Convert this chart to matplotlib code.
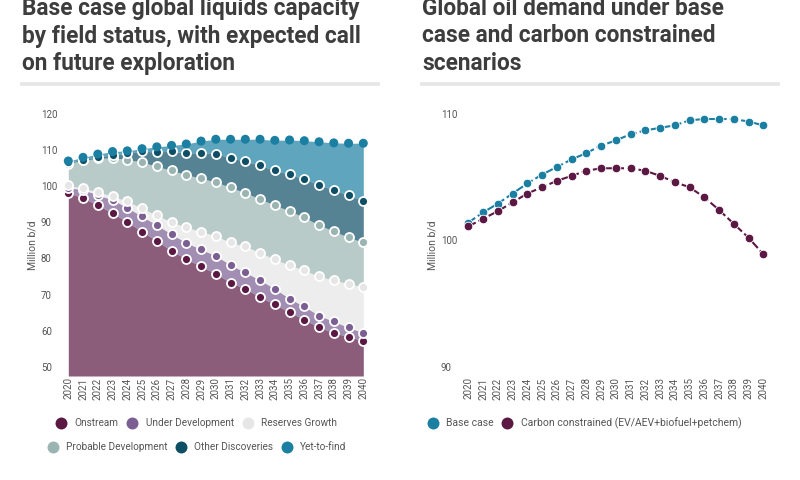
import matplotlib
matplotlib.use("Agg")
import matplotlib.pyplot as plt
from matplotlib.lines import Line2D

plt.rcParams['font.family'] = ['Roboto', 'DejaVu Sans']

years = list(range(2020, 2041))

# Left chart: stacked band tops (cumulative, million b/d)
onstream = [98.1, 96.7, 94.7, 92.5, 90.0, 87.4, 84.8, 82.1, 79.8, 77.8, 75.8,
            73.3, 71.6, 69.3, 67.3, 65.1, 63.1, 60.9, 59.5, 58.3, 57.3]
under_development = [99.5, 99.0, 97.5, 96.2, 94.0, 91.6, 89.2, 86.7, 84.3, 82.5, 80.7,
                     78.2, 76.1, 74.0, 71.6, 68.9, 66.7, 64.2, 62.6, 60.9, 59.5]
reserves_growth = [100.2, 99.3, 98.4, 97.1, 95.8, 93.8, 91.9, 90.0, 88.6, 87.4, 86.2,
                   84.4, 83.3, 81.6, 79.7, 78.1, 76.7, 75.0, 74.0, 73.0, 72.1]
probable_development = [106.2, 107.1, 107.6, 107.8, 107.3, 106.6, 105.4, 104.3, 103.1, 102.1, 101.1,
                        99.6, 98.1, 96.4, 94.7, 93.1, 91.3, 89.2, 87.5, 85.8, 84.4]
other_discoveries = [106.6, 107.3, 108.0, 108.6, 109.0, 109.6, 109.4, 109.6, 109.1, 109.2, 108.9,
                     107.8, 106.8, 105.7, 104.3, 103.2, 101.9, 100.3, 98.9, 97.5, 95.9]
yet_to_find = [106.9, 107.9, 108.8, 109.5, 109.7, 110.3, 110.8, 111.2, 111.6, 112.4, 112.9,
               112.9, 112.9, 112.9, 112.6, 112.7, 112.5, 112.2, 111.9, 111.8, 111.8]

band_names = ["Onstream", "Under Development", "Reserves Growth",
              "Probable Development", "Other Discoveries", "Yet-to-find"]
band_tops = [onstream, under_development, reserves_growth,
             probable_development, other_discoveries, yet_to_find]
band_colors = ["#5a1843", "#7b5f93", "#e6e6e6", "#9ab5b1", "#0f4f66", "#1b7fa2"]
band_edges = ["white", "white", "white", "white", "white", "none"]

# Right chart: demand (million b/d)
base_case = [101.4, 102.2, 102.9, 103.7, 104.5, 105.2, 105.8, 106.4, 106.9, 107.5, 107.9,
             108.4, 108.7, 108.9, 109.1, 109.5, 109.6, 109.6, 109.6, 109.4, 109.1]
carbon_constrained = [101.1, 101.7, 102.3, 103.0, 103.7, 104.2, 104.7, 105.1, 105.5, 105.7, 105.7,
                      105.7, 105.5, 105.1, 104.6, 104.2, 103.4, 102.4, 101.3, 100.2, 98.9]

left_title = ["Base case global liquids capacity",
              "by field status, with expected call",
              "on future exploration"]
right_title = ["Global oil demand under base",
               "case and carbon constrained",
               "scenarios"]
left_yticks = [50, 60, 70, 80, 90, 100, 110, 120]
right_yticks = [90, 100, 110]

W, H = 800, 480
fig = plt.figure(figsize=(8, 4.8), dpi=100)
fig.patch.set_facecolor("white")

TXT = "#555555"
TITLE = "#3d3d3d"

def fx(px):
    return px / W

def fy(py):
    return 1 - py / H

axL = fig.add_axes([fx(68.3), fy(376), 295 / W, 271.5 / H])
axR = fig.add_axes([fx(468.3), fy(376), 295 / W, 271.5 / H])

# Left stacked areas
ymin_l, ymax_l = 47.5, 122.5
lower = [ymin_l] * len(years)
for top, col in zip(band_tops, band_colors):
    axL.fill_between(years, lower, top, color=col, alpha=0.7, linewidth=0, zorder=1)
    lower = top
for top, col, ec, name in zip(band_tops, band_colors, band_edges, band_names):
    axL.scatter(years, top, s=42, color=col, edgecolors=ec, linewidths=1.3,
                zorder=3, clip_on=False, label=name)
axL.set_ylim(ymin_l, ymax_l)
axL.set_xlim(2020, 2040)
axL.set_yticks(left_yticks)

# Right lines
axR.plot(years, base_case, color="#1b7fa2", lw=1.5, ls=(0, (4, 1.5)), marker="o",
         ms=6.2, mec="white", mew=0.6, clip_on=False, zorder=3, label="Base case")
axR.plot(years, carbon_constrained, color="#5a1843", lw=1.5, ls=(0, (4, 1.5)), marker="o",
         ms=6.2, mec="white", mew=0.6, clip_on=False, zorder=4,
         label="Carbon constrained (EV/AEV+biofuel+petchem)")
axR.set_ylim(89.25, 110.75)
axR.set_xlim(2020, 2040)
axR.set_yticks(right_yticks)

for ax in (axL, axR):
    for s in ax.spines.values():
        s.set_visible(False)
    ax.set_xticks(years)
    ax.set_xticklabels([str(y) for y in years], rotation=90, fontsize=7, color=TXT)
    ax.tick_params(axis="x", length=0, pad=1)
    ax.tick_params(axis="y", length=0, pad=19.7, labelsize=7, labelcolor=TXT)
    for lab in ax.get_yticklabels():
        lab.set_horizontalalignment("left")
    ax.set_ylabel("Million b/d", fontsize=7.5, color=TXT)
    ax.yaxis.set_label_coords(-0.106, 0.4825)
    ax.set_facecolor("none")

# Titles
for lines, x0 in ((left_title, 22.5), (right_title, 422.5)):
    for i, line in enumerate(lines):
        fig.text(fx(x0), fy(15 + 27.5 * i), line, fontsize=16.3, fontweight="bold",
                 color=TITLE, va="baseline", ha="left")

# Separator rules
for x0, x1 in ((22, 378), (422, 778)):
    fig.add_artist(Line2D([fx(x0), fx(x1)], [fy(84), fy(84)], color="#e6e6e6",
                          lw=2.6, transform=fig.transFigure))

# Legends
def handle(col):
    return Line2D([], [], marker="o", ls="none", ms=8.6, color=col, mec="none")

leg_kw = dict(frameon=False, fontsize=7.2, handlelength=1.25, handletextpad=0.7,
              columnspacing=0.75, borderpad=0, labelcolor=TXT, loc="center")
h1 = [handle(c) for c in band_colors[:3]]
h2 = [handle(c) for c in band_colors[3:]]
fig.legend(h1, band_names[:3], ncol=3, bbox_to_anchor=(fx(196), fy(423)), **leg_kw)
fig.legend(h2, band_names[3:], ncol=3, bbox_to_anchor=(fx(196.5), fy(447)), **leg_kw)
hr = [handle("#1b7fa2"), handle("#5a1843")]
leg_kw_r = dict(leg_kw, fontsize=7.5, handlelength=1.2, handletextpad=0.69, columnspacing=0.67)
fig.legend(hr, ["Base case", "Carbon constrained (EV/AEV+biofuel+petchem)"], ncol=2,
           bbox_to_anchor=(fx(584), fy(423)), **leg_kw_r)

fig.savefig("out.png", dpi=100)
